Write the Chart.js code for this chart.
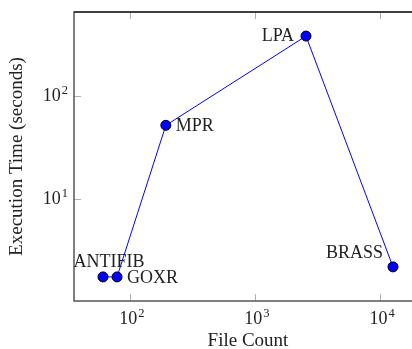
<!DOCTYPE html>
<html>
<head>
<meta charset="utf-8">
<script src="https://cdn.jsdelivr.net/npm/chart.js@4.4.1/dist/chart.umd.min.js"></script>
<style>
  html, body { margin: 0; padding: 0; background: #fff; overflow: hidden; }
  #wrap { position: relative; width: 430px; height: 349px; }
</style>
</head>
<body>
<div id="wrap"><canvas id="c" width="430" height="349"></canvas></div>
<script>
// Tool name, number of files processed, run time in seconds
const tools = ['ANTIFIB', 'GOXR', 'MPR', 'LPA', 'BRASS'];
const fileCounts = [61, 79, 194, 2560, 12700];
const execSeconds = [1.75, 1.75, 52, 383, 2.19];
const labelSides = ['above', 'right', 'right', 'left', 'aboveLeft'];
const xTickValues = [100, 1000, 10000];
const yTickValues = [10, 100];
const xTickExponents = ['2', '3', '4'];
const yTickExponents = ['1', '2'];

const FONT = '"Liberation Serif", "DejaVu Serif", serif';
const INK = '#222';

const points = fileCounts.map((x, i) => ({ x: x, y: execSeconds[i] }));

// Log-axis limits padded by 10% of the data span on each side
function paddedRange(vals) {
  const lo = Math.log10(Math.min(...vals)), hi = Math.log10(Math.max(...vals));
  const pad = (hi - lo) * 0.1;
  return [Math.pow(10, lo - pad), Math.pow(10, hi + pad)];
}
const xr = paddedRange(fileCounts);
const yr = paddedRange(execSeconds);

// "10" with a raised exponent; (x, y) is the anchor, align is 'center' or 'right'
function drawPower(ctx, exp, x, y, align) {
  ctx.font = '18px ' + FONT;
  const bw = ctx.measureText('10').width;
  ctx.font = '12.5px ' + FONT;
  const ew = ctx.measureText(exp).width + 1;
  const total = bw + ew;
  const left = align === 'right' ? x - total : x - total / 2;
  ctx.textAlign = 'left';
  ctx.textBaseline = 'alphabetic';
  ctx.font = '18px ' + FONT;
  ctx.fillText('10', left, y + 6);
  ctx.font = '12.5px ' + FONT;
  ctx.fillText(exp, left + bw + 1, y - 1);
}

const frameAndLabels = {
  id: 'frameAndLabels',
  afterDatasetsDraw(chart) {
    const ctx = chart.ctx;
    const a = chart.chartArea;
    const xs = chart.scales.x, ys = chart.scales.y;
    ctx.save();
    // inward tick marks on all four sides
    ctx.strokeStyle = '#b0b0b0';
    ctx.lineWidth = 1;
    xTickValues.forEach(v => {
      const px = Math.round(xs.getPixelForValue(v)) + 0.5;
      ctx.beginPath();
      ctx.moveTo(px, a.bottom); ctx.lineTo(px, a.bottom - 7);
      ctx.moveTo(px, a.top); ctx.lineTo(px, a.top + 7);
      ctx.stroke();
    });
    yTickValues.forEach(v => {
      const py = Math.round(ys.getPixelForValue(v)) + 0.5;
      ctx.beginPath();
      ctx.moveTo(a.left, py); ctx.lineTo(a.left + 7, py);
      ctx.moveTo(a.right, py); ctx.lineTo(a.right - 7, py);
      ctx.stroke();
    });
    // axis box
    ctx.strokeStyle = '#555';
    ctx.lineWidth = 1.5;
    ctx.strokeRect(a.left, a.top, a.right - a.left, a.bottom - a.top);
    ctx.strokeStyle = '#000';
    ctx.lineWidth = 1.2;
    ctx.beginPath();
    ctx.moveTo(a.left, a.top); ctx.lineTo(a.right, a.top);
    ctx.stroke();

    // tick labels
    ctx.fillStyle = INK;
    xTickValues.forEach((v, i) => {
      drawPower(ctx, xTickExponents[i], xs.getPixelForValue(v) + 2, a.bottom + 17, 'center');
    });
    yTickValues.forEach((v, i) => {
      drawPower(ctx, yTickExponents[i], a.left - 6, ys.getPixelForValue(v) - 1, 'right');
    });

    // point labels
    const meta = chart.getDatasetMeta(0);
    ctx.font = '18px ' + FONT;
    ctx.textBaseline = 'middle';
    meta.data.forEach((el, i) => {
      const side = labelSides[i];
      let x = el.x, y = el.y;
      if (side === 'right') { ctx.textAlign = 'left'; x += 10; y += 1; }
      else if (side === 'left') { ctx.textAlign = 'right'; x -= 12; }
      else if (side === 'above') { ctx.textAlign = 'center'; x += 6; y -= 15; }
      else { ctx.textAlign = 'right'; x -= 10; y -= 14; }
      ctx.fillText(tools[i], x, y);
    });
    ctx.restore();
  }
};

new Chart(document.getElementById('c'), {
  type: 'line',
  data: {
    datasets: [{
      data: points,
      borderColor: '#0000ff',
      borderWidth: 1,
      backgroundColor: '#0000ff',
      pointBackgroundColor: '#0000ff',
      pointBorderColor: '#000',
      pointBorderWidth: 1,
      pointRadius: 5,
      tension: 0,
      clip: false
    }]
  },
  options: {
    responsive: false,
    animation: false,
    layout: { padding: { top: 12, right: 8, left: 0, bottom: 0 } },
    plugins: { legend: { display: false }, tooltip: { enabled: false } },
    scales: {
      x: {
        type: 'logarithmic',
        min: xr[0], max: xr[1],
        grid: { display: false, drawTicks: false },
        border: { display: false },
        afterBuildTicks(s) { s.ticks = xTickValues.map(v => ({ value: v })); },
        afterFit(s) { s.height = 48; },
        ticks: { display: false },
        title: {
          display: true, text: 'File Count', color: INK,
          font: { family: FONT, size: 19, lineHeight: 0.85 }, padding: { top: 0, bottom: 0 }
        }
      },
      y: {
        type: 'logarithmic',
        min: yr[0], max: yr[1],
        grid: { display: false, drawTicks: false },
        border: { display: false },
        afterBuildTicks(s) { s.ticks = yTickValues.map(v => ({ value: v })); },
        afterFit(s) { s.width = 74; },
        ticks: { display: false },
        title: {
          display: true, text: 'Execution Time (seconds)', color: INK,
          font: { family: FONT, size: 19 }, padding: { top: 6, bottom: 0 }
        }
      }
    }
  },
  plugins: [frameAndLabels]
});
</script>
</body>
</html>
